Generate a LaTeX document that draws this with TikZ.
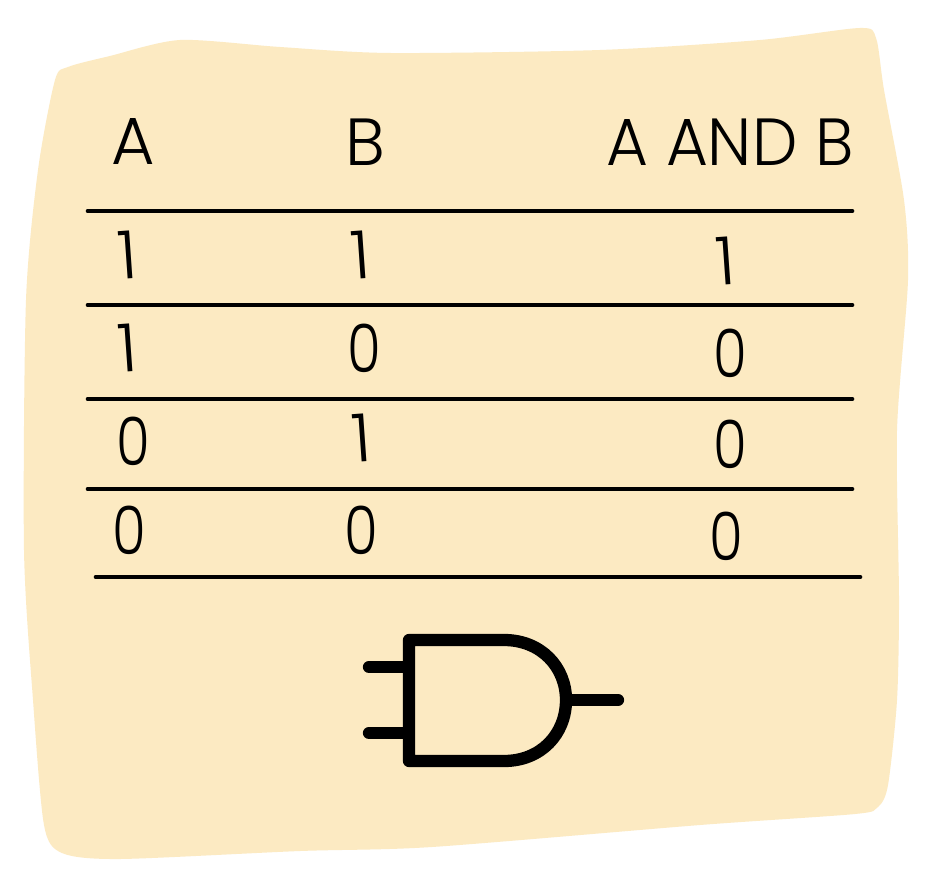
\documentclass[tikz,border=0pt]{standalone}
\usepackage{fontspec}
\newfontfamily\handfont{Poppins}[UprightFont=* Light]
\definecolor{paper}{HTML}{FCEAC2}
\tikzset{
  txt/.style={font=\handfont\fontsize{50}{50}\selectfont, inner sep=0pt, text=black},
  zero/.style={txt, xscale=0.82},
  one/.style={txt, rotate=4},
  rule/.style={line width=3.5pt, draw=black, line cap=round},
  gate/.style={line width=9.2pt, draw=black, line cap=round, line join=round},
}
\begin{document}
\begin{tikzpicture}[x=0.75pt,y=-0.75pt]
\useasboundingbox (0,0) rectangle (930,880);
\fill[white] (0,0) rectangle (930,880);
\fill[paper] plot[smooth cycle, tension=0.45] coordinates {
 (68,67) (110,56) (180,40) (280,47) (390,53) (600,50) (760,40) (860,28) (876,38) (884,90) (904,200) (908,280) (897,430) (899,600) (897,700) (888,785) (878,807) (855,814) (700,825) (432,847) (300,851) (120,859) (62,853) (44,825) (33,700) (24,550) (26,300) (38,170) (55,80)};
\node[txt] (a) at (133,142) {A};
\node[txt] (b) at (365,142) {B};
\node[txt, xscale=0.965] (ab) at (730,142) {A AND B};
\node[one] (r1a) at (128,255) {1};
\node[one] (r1b) at (361,255) {1};
\node[one] (r1c) at (726,261) {1};
\node[one] (r2a) at (128,348) {1};
\node[zero] (r2b) at (364,348) {0};
\node[zero] (r2c) at (730,353) {0};
\node[zero] (r3a) at (133,441) {0};
\node[one] (r3b) at (362,438) {1};
\node[zero] (r3c) at (730,444) {0};
\node[zero] (r4a) at (129,530) {0};
\node[zero] (r4b) at (361,530) {0};
\node[zero] (r4c) at (726,536) {0};
\coordinate (l1a) at (88,211); \coordinate (l1b) at (852,211);
\coordinate (l2a) at (88,305); \coordinate (l2b) at (852,305);
\coordinate (l3a) at (88,399); \coordinate (l3b) at (852,399);
\coordinate (l4a) at (88,489); \coordinate (l4b) at (852,489);
\coordinate (l5a) at (96,577); \coordinate (l5b) at (860,577);
\draw[rule] (l1a) -- (l1b);
\draw[rule] (l2a) -- (l2b);
\draw[rule] (l3a) -- (l3b);
\draw[rule] (l4a) -- (l4b);
\draw[rule] (l5a) -- (l5b);
\coordinate (gnw) at (409,640); \coordinate (gsw) at (409,761); \coordinate (gtip) at (566,700);
\draw[gate] (gnw) -- (504,640) .. controls (541,640) and (566,667) .. (gtip) .. controls (566,734) and (541,761) .. (504,761) -- (gsw) -- cycle;
\coordinate (i1) at (369,667); \coordinate (i1e) at (405,667);
\coordinate (i2) at (369,733); \coordinate (i2e) at (405,733);
\coordinate (o0) at (570,700); \coordinate (o1) at (618,700);
\draw[gate] (i1) -- (i1e);
\draw[gate] (i2) -- (i2e);
\draw[gate] (o0) -- (o1);
\end{tikzpicture}
\end{document}
